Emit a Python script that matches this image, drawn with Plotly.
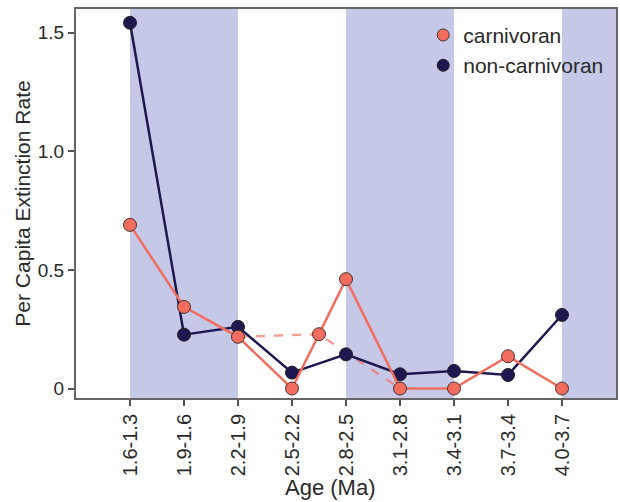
import plotly.graph_objects as go

# Age bins (Ma), youngest first
age_bins = ["1.6-1.3", "1.9-1.6", "2.2-1.9", "2.5-2.2", "2.8-2.5",
            "3.1-2.8", "3.4-3.1", "3.7-3.4", "4.0-3.7"]

# Per capita extinction rates per bin
carnivoran = [0.69, 0.344, 0.218, 0.0, 0.461, 0.0, 0.0, 0.136, 0.0]
non_carnivoran = [1.542, 0.227, 0.260, 0.067, 0.144, 0.060, 0.074, 0.057, 0.310]

# Extra carnivoran estimate for the 2.65-2.35 Ma window (between bins 3 and 4)
alt_pos = 3.5
alt_carnivoran = 0.229

# Shaded glacial intervals, in bin-index units
shaded = [(0, 2), (4, 6), (8, 9)]

y_ticks = [0, 0.5, 1.0, 1.5]
y_ticktext = ["0", "0.5", "1.0", "1.5"]

SALMON = "#f26d5e"
NAVY = "#1e1850"
BAND = "#c5c8e6"
FONT = "Liberation Sans, Arial, sans-serif"
TEXT = "#2a2a2a"

idx = list(range(len(age_bins)))

# Carnivoran solid path runs through the extra window estimate
carn_x = idx[:4] + [alt_pos] + idx[4:]
carn_y = carnivoran[:4] + [alt_carnivoran] + carnivoran[4:]

# Dashed path: bin 2 -> extra window -> bin 5
dash_x = [idx[2], alt_pos, idx[5]]
dash_y = [carnivoran[2], alt_carnivoran, carnivoran[5]]

fig = go.Figure()

fig.add_trace(go.Scatter(
    x=dash_x, y=dash_y, mode="lines",
    line=dict(color=SALMON, width=2.5, dash="dash"),
    opacity=0.65, showlegend=False, hoverinfo="skip"))

fig.add_trace(go.Scatter(
    x=idx, y=non_carnivoran, mode="lines+markers",
    line=dict(color=NAVY, width=2.5),
    marker=dict(color=NAVY, size=13, line=dict(color="#222222", width=1)),
    showlegend=False))

fig.add_trace(go.Scatter(
    x=carn_x, y=carn_y, mode="lines+markers",
    line=dict(color=SALMON, width=2.5),
    marker=dict(color=SALMON, size=13, line=dict(color="#4a3030", width=1)),
    showlegend=False))

# Legend entries (markers only)
fig.add_trace(go.Scatter(
    x=[None], y=[None], mode="markers", name="carnivoran",
    marker=dict(color=SALMON, size=12, line=dict(color="#4a3030", width=1))))
fig.add_trace(go.Scatter(
    x=[None], y=[None], mode="markers", name="non-carnivoran",
    marker=dict(color=NAVY, size=12, line=dict(color="#222222", width=1))))

for x0, x1 in shaded:
    fig.add_shape(type="rect", xref="x", yref="paper",
                  x0=x0, x1=x1, y0=0, y1=1,
                  fillcolor=BAND, line=dict(width=0), layer="below")

fig.update_layout(
    width=620, height=502,
    margin=dict(l=76, r=2, t=9, b=104),
    paper_bgcolor="white", plot_bgcolor="white",
    font=dict(family=FONT, color=TEXT),
    legend=dict(x=0.643, y=0.985, xanchor="left", yanchor="top",
                bgcolor="rgba(0,0,0,0)", font=dict(size=21, color=TEXT),
                itemsizing="trace", tracegroupgap=0),
    annotations=[dict(text="Age (Ma)", xref="paper", yref="paper",
                      x=0.47, y=-0.23, xanchor="center", yanchor="middle",
                      showarrow=False, font=dict(size=22, color=TEXT))],
)

fig.update_xaxes(
    range=[-1, 9], tickmode="array", tickvals=idx, ticktext=age_bins,
    tickangle=-90, tickfont=dict(size=20, color=TEXT),
    ticks="outside", ticklen=6, tickcolor="#555555", tickwidth=1.5,
    showline=True, linecolor="#666666", linewidth=2, mirror=True,
    showgrid=False, zeroline=False)

fig.update_yaxes(
    range=[-0.04, 1.6], tickmode="array", tickvals=y_ticks, ticktext=y_ticktext,
    tickfont=dict(size=19, color=TEXT),
    ticks="outside", ticklen=6, tickcolor="#555555", tickwidth=1.5,
    showline=True, linecolor="#666666", linewidth=2, mirror=True,
    showgrid=False, zeroline=False,
    title=dict(text="Per Capita Extinction Rate", font=dict(size=21, color=TEXT),
               standoff=1))

fig.write_html("out.html")
